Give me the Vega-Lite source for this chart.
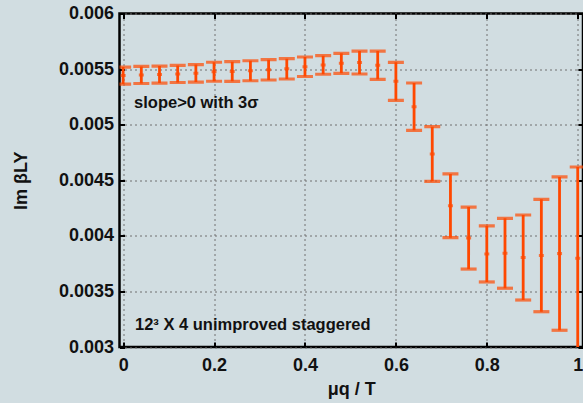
{
  "$schema": "https://vega.github.io/schema/vega-lite/v6.json",
  "autosize": "none",
  "width": 463.5,
  "height": 333.5,
  "padding": {"left": 119.5, "top": 13.5, "right": 0, "bottom": 56},
  "background": "#d1dde1",
  "config": {
    "view": {"stroke": "#000000", "strokeWidth": 2.5, "fill": "#d1dde1"},
    "font": "Liberation Sans",
    "axis": {
      "labelFont": "Liberation Sans",
      "labelFontSize": 18,
      "labelFontWeight": "bold",
      "labelColor": "#111111",
      "titleFont": "Liberation Sans",
      "titleFontSize": 18,
      "titleFontWeight": "bold",
      "titleColor": "#111111",
      "domain": false,
      "tickColor": "#000000",
      "tickWidth": 2,
      "tickSize": -5,
      "gridColor": "#707070",
      "gridDash": [2, 3],
      "gridWidth": 1
    }
  },
  "datasets": {
    "pts": [
      {"x": 0.00, "v": 0.005442, "e": 0.0000765},
      {"x": 0.04, "v": 0.005447, "e": 0.0000765},
      {"x": 0.08, "v": 0.005451, "e": 0.0000765},
      {"x": 0.12, "v": 0.005456, "e": 0.0000765},
      {"x": 0.16, "v": 0.005462, "e": 0.0000787},
      {"x": 0.20, "v": 0.005476, "e": 0.0000855},
      {"x": 0.24, "v": 0.005478, "e": 0.0000882},
      {"x": 0.28, "v": 0.005485, "e": 0.0000900},
      {"x": 0.32, "v": 0.005493, "e": 0.0000913},
      {"x": 0.36, "v": 0.005502, "e": 0.0000913},
      {"x": 0.40, "v": 0.005521, "e": 0.0000877},
      {"x": 0.44, "v": 0.005537, "e": 0.0000837},
      {"x": 0.48, "v": 0.005552, "e": 0.0000900},
      {"x": 0.52, "v": 0.005559, "e": 0.0001034},
      {"x": 0.56, "v": 0.005535, "e": 0.0001273},
      {"x": 0.60, "v": 0.005390, "e": 0.0001709},
      {"x": 0.64, "v": 0.005162, "e": 0.0002127},
      {"x": 0.68, "v": 0.004736, "e": 0.0002456},
      {"x": 0.72, "v": 0.004270, "e": 0.0002865},
      {"x": 0.76, "v": 0.003980, "e": 0.0002789},
      {"x": 0.80, "v": 0.003837, "e": 0.0002519},
      {"x": 0.84, "v": 0.003843, "e": 0.0003144},
      {"x": 0.88, "v": 0.003805, "e": 0.0003823},
      {"x": 0.92, "v": 0.003823, "e": 0.0005056},
      {"x": 0.96, "v": 0.003840, "e": 0.0006895},
      {"x": 1.00, "v": 0.003798, "e": 0.0008213}
    ],
    "notes": [
      {"label": "slope>0 with 3σ", "x": 0.024, "y": 0.005195},
      {"label": "12³ X 4 unimproved staggered", "x": 0.026, "y": 0.003198}
    ]
  },
  "resolve": {"axis": {"x": "independent", "y": "independent"}},
  "layer": [
    {
      "data": {"name": "pts"},
      "layer": [
        {
          "mark": {
            "type": "errorbar",
            "clip": true,
            "color": "#ff4800",
            "rule": {"strokeWidth": 2.8},
            "ticks": {"size": 16, "thickness": 3.2}
          },
          "encoding": {
            "x": {
              "field": "x", "type": "quantitative",
              "scale": {"domain": [-0.008, 1.0116], "nice": false, "zero": false},
              "axis": {
                "orient": "bottom",
                "values": [0, 0.2, 0.4, 0.6, 0.8, 1],
                "format": "~g",
                "grid": true,
                "labelPadding": 14,
                "title": "μq / T",
                "titlePadding": 6
              }
            },
            "y": {
              "field": "v", "type": "quantitative",
              "scale": {"domain": [0.003, 0.006], "nice": false, "zero": false},
              "axis": {
                "orient": "left",
                "values": [0.003, 0.0035, 0.004, 0.0045, 0.005, 0.0055, 0.006],
                "format": "~g",
                "grid": true,
                "labelPadding": 11,
                "title": "Im βLY",
                "titlePadding": 28
              }
            },
            "yError": {"field": "e"}
          }
        },
        {
          "mark": {"type": "tick", "orient": "horizontal", "color": "#ff4800", "size": 5, "thickness": 3, "clip": true},
          "encoding": {
            "x": {"field": "x", "type": "quantitative"},
            "y": {"field": "v", "type": "quantitative"}
          }
        }
      ]
    },
    {
      "data": {"name": "pts"},
      "mark": {"type": "point", "opacity": 0},
      "encoding": {
        "x": {
          "field": "x", "type": "quantitative",
          "axis": {"orient": "top", "values": [0, 0.2, 0.4, 0.6, 0.8, 1], "labels": false, "grid": false, "title": null}
        },
        "y": {
          "field": "v", "type": "quantitative",
          "axis": {"orient": "right", "values": [0.003, 0.0035, 0.004, 0.0045, 0.005, 0.0055, 0.006], "labels": false, "grid": false, "title": null}
        }
      }
    },
    {
      "data": {"name": "notes"},
      "mark": {"type": "text", "align": "left", "baseline": "middle", "font": "Liberation Sans", "fontWeight": "bold", "fontSize": 16.5, "color": "#111111"},
      "encoding": {
        "x": {"field": "x", "type": "quantitative", "axis": null},
        "y": {"field": "y", "type": "quantitative", "axis": null},
        "text": {"field": "label"}
      }
    }
  ]
}
